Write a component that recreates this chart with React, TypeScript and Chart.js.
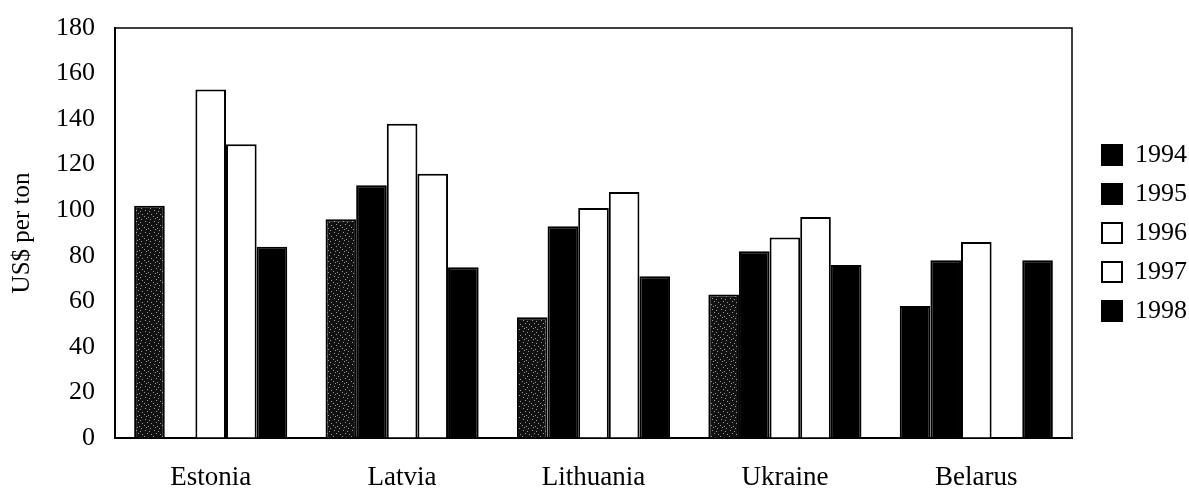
import React, { useEffect, useRef } from "react";
import { Chart, registerables } from "chart.js";

Chart.register(...registerables);

const categories = ["Estonia", "Latvia", "Lithuania", "Ukraine", "Belarus"];
const years = ["1994", "1995", "1996", "1997", "1998"];
const v1994 = [102, 96, 53, 63, 58];
const v1995 = [null, 111, 93, 82, 78];
const v1996 = [153, 138, 101, 88, 86];
const v1997 = [129, 116, 108, 97, null];
const v1998 = [84, 75, 71, 76, 78];
const yTicks = [0, 20, 40, 60, 80, 100, 120, 140, 160, 180];

const FONT = "'Liberation Serif', 'DejaVu Serif', serif";

function makeSpeckle(): CanvasPattern | string {
  const c = document.createElement("canvas");
  c.width = 9;
  c.height = 11;
  const g = c.getContext("2d");
  if (!g) return "#1a1a1a";
  g.fillStyle = "#111111";
  g.fillRect(0, 0, 9, 11);
  g.fillStyle = "#9a9a9a";
  const dots = [
    [1, 1], [5, 2], [3, 4], [7, 5], [0, 7], [4, 8], [6, 10], [2, 9],
  ];
  dots.forEach(([x, y]) => g.fillRect(x, y, 1, 1));
  const p = g.createPattern(c, "repeat");
  return p || "#1a1a1a";
}

const framePlugin = {
  id: "frame",
  afterLayout(chart: any) {
    const lg = chart.legend;
    if (lg) {
      lg.left = 1089;
      lg.right = chart.width;
      lg.width = lg.right - lg.left;
    }
  },
  afterDatasetsDraw(chart: any) {
    const { ctx, chartArea } = chart;
    ctx.save();
    ctx.strokeStyle = "#000";
    ctx.lineWidth = 1.5;
    ctx.strokeRect(chartArea.left, chartArea.top, chartArea.right - chartArea.left, chartArea.bottom - chartArea.top);
    ctx.restore();
  },
};

export default function App() {
  const ref = useRef<HTMLCanvasElement | null>(null);

  useEffect(() => {
    if (!ref.current) return;
    const speckle = makeSpeckle();
    const legendFill = ["#000", "#000", "#fff", "#fff", "#000"];
    const series = [v1994, v1995, v1996, v1997, v1998];
    const fills: any[] = [
      [speckle, speckle, speckle, speckle, "#000"],
      "#000",
      "#fff",
      "#fff",
      "#000",
    ];
    const chart = new Chart(ref.current, {
      type: "bar",
      data: {
        labels: categories,
        datasets: series.map((d, i) => ({
          label: years[i],
          data: d,
          backgroundColor: fills[i],
          borderColor: "#000",
          borderWidth: 2,
          categoryPercentage: 0.8,
          barPercentage: 1.0,
        })),
      },
      options: {
        animation: false,
        responsive: true,
        maintainAspectRatio: false,
        layout: { padding: { top: 28, right: 9, left: 0, bottom: 0 } },
        plugins: {
          tooltip: { enabled: false },
          legend: {
            position: "right",
            fullSize: false,
            labels: {
              boxWidth: 20,
              boxHeight: 20,
              padding: 13,
              color: "#000",
              font: { family: FONT, size: 26 },
              generateLabels: () =>
                years.map((y, i) => ({
                  text: y,
                  fillStyle: legendFill[i],
                  strokeStyle: "#000",
                  lineWidth: 2,
                  datasetIndex: i,
                  hidden: false,
                  fontColor: "#000",
                })),
            },
          },
        },
        scales: {
          x: {
            afterFit: (scale: any) => {
              scale.height = 53;
            },
            grid: { display: false, drawTicks: false },
            border: { display: true, color: "#000", width: 2 },
            ticks: { color: "#000", font: { family: FONT, size: 27 }, padding: 24 },
          },
          y: {
            min: 0,
            max: 180,
            afterBuildTicks: (scale: any) => {
              scale.ticks = yTicks.map((v) => ({ value: v }));
            },
            afterFit: (scale: any) => {
              scale.width = 115;
              scale.paddingTop = 0;
              scale.paddingBottom = 0;
            },
            grid: { display: false, drawTicks: false },
            border: { display: true, color: "#000", width: 2 },
            ticks: { color: "#000", font: { family: FONT, size: 26 }, padding: 20 },
            title: {
              display: true,
              text: "US$ per ton",
              color: "#000",
              font: { family: FONT, size: 25 },
              padding: { top: 7, bottom: 0 },
            },
          },
        },
      },
      plugins: [framePlugin],
    } as any);
    return () => chart.destroy();
  }, []);

  return (
    <div style={{ position: "fixed", left: 0, top: 0, width: 1189, height: 491, background: "#fff" }}>
      <canvas ref={ref} />
    </div>
  );
}
